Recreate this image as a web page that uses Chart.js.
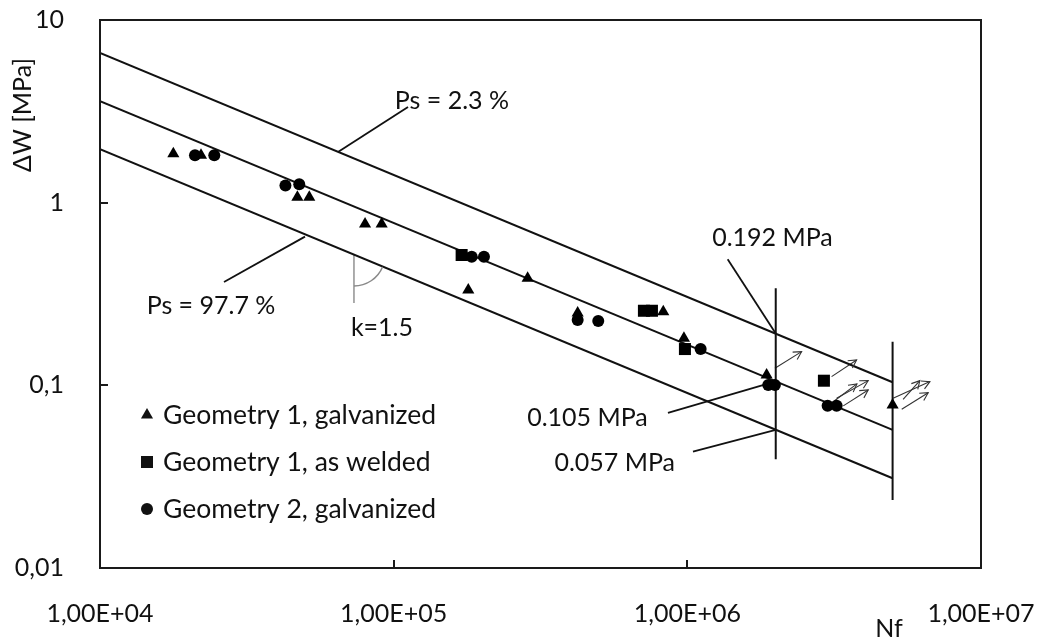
<!DOCTYPE html>
<html><head><meta charset="utf-8">
<script src="https://cdn.jsdelivr.net/npm/chart.js@4"></script>
<style>html,body{margin:0;padding:0;background:#fff;overflow:hidden}</style>
</head><body>
<canvas id="c" width="1045" height="641"></canvas>
<script>
const FONT = 'Lato';
const FS = 25;
const xTickValues = [1e4, 1e5, 1e6, 1e7];
const xTickLabels = ['1,00E+04', '1,00E+05', '1,00E+06', '1,00E+07'];
const yTickValues = [0.01, 0.1, 1, 10];
const yTickLabels = ['0,01', '0,1', '1', '10'];
const xTitle = 'Nf';
const yTitle = 'ΔW [MPa]';
const seriesNames = ['Geometry 1, galvanized', 'Geometry 1, as welded', 'Geometry 2, galvanized'];

const triN = [17770, 22080, 47000, 51600, 79900, 91000, 179500, 285900, 423200, 828000, 973600, 1862000, 5000000];
const triW = [1.85, 1.82, 1.07, 1.07, 0.765, 0.765, 0.333, 0.386, 0.249, 0.253, 0.181, 0.114, 0.078];
const sqN = [170400, 711500, 757700, 981300, 2918000];
const sqW = [0.517, 0.256, 0.256, 0.158, 0.106];
const circN = [21060, 24500, 42800, 47700, 184400, 203000, 423200, 497300, 1110000, 1886000, 1987000, 3004000, 3224000];
const circW = [1.82, 1.82, 1.242, 1.261, 0.506, 0.506, 0.228, 0.225, 0.158, 0.1005, 0.1005, 0.0772, 0.0772];

const lineN = [1e4, 5e6];
const ps23W = [6.6, 0.104];
const ps50W = [3.6, 0.057];
const ps977W = [1.96, 0.031];

const limitN = [2e6, 5e6];
const limitTopW = [0.34, 0.173];
const limitBotW = [0.0394, 0.0236];

const leaderFromN = [111900, 26440, 1372000, 859000, 1045000];
const leaderFromW = [3.341, 0.368, 0.49, 0.0706, 0.0434];
const leaderToN = [64620, 49890, 2e6, 2e6, 2e6];
const leaderToW = [1.894, 0.6515, 0.192, 0.105, 0.057];

const arrowFromN = [1987000, 3099000, 3224000, 3130000, 3396000, 5020000, 5430000, 5370000];
const arrowFromW = [0.1241, 0.1116, 0.085, 0.0811, 0.0772, 0.085, 0.0839, 0.074];
const arrowToN = [2450000, 3771000, 4130000, 3780000, 4130000, 6700000, 6190000, 6610000];
const arrowToW = [0.1529, 0.1377, 0.1061, 0.1018, 0.0943, 0.1048, 0.1061, 0.0911];

const slopeMarkN = [73250, 73250];
const slopeMarkW = [0.517, 0.2825];

const annoTexts = ['Ps = 2.3 %', 'Ps = 97.7 %', 'k=1.5', '0.192 MPa', '0.105 MPa', '0.057 MPa'];
const annoN = [157900, 23880, 91240, 1949000, 457000, 565600];
const annoW = [3.604, 0.2721, 0.2061, 0.641, 0.0663, 0.0376];

const pts = (ns, ws) => ns.map((n, i) => ({x: n, y: ws[i]}));
const seg = (x1, y1, x2, y2, color, width, extra) => Object.assign({
  type: 'line', data: [{x: x1, y: y1}, {x: x2, y: y2}], borderColor: color, borderWidth: width,
  pointRadius: 0, fill: false, tension: 0
}, extra || {});

const datasets = [
  {type: 'scatter', label: seriesNames[0], data: pts(triN, triW), pointStyle: 'triangle', pointRadius: 7, backgroundColor: '#000', borderColor: '#000', borderWidth: 0},
  {type: 'scatter', label: seriesNames[1], data: pts(sqN, sqW), pointStyle: 'rect', pointRadius: 8.5, backgroundColor: '#000', borderColor: '#000', borderWidth: 0},
  {type: 'scatter', label: seriesNames[2], data: pts(circN, circW), pointStyle: 'circle', pointRadius: 6, backgroundColor: '#000', borderColor: '#000', borderWidth: 0},
  seg(lineN[0], ps23W[0], lineN[1], ps23W[1], '#111', 2),
  seg(lineN[0], ps50W[0], lineN[1], ps50W[1], '#111', 2),
  seg(lineN[0], ps977W[0], lineN[1], ps977W[1], '#111', 2),
];
limitN.forEach((n, i) => datasets.push(seg(n, limitTopW[i], n, limitBotW[i], '#111', 2)));
leaderFromN.forEach((n, i) => datasets.push(seg(n, leaderFromW[i], leaderToN[i], leaderToW[i], '#111', 1.8)));
arrowFromN.forEach((n, i) => datasets.push(seg(n, arrowFromW[i], arrowToN[i], arrowToW[i], '#333', 1.1, {isArrow: true})));
datasets.push(seg(slopeMarkN[0], slopeMarkW[0], slopeMarkN[1], slopeMarkW[1], '#8a8a8a', 1.4));

function drawMarker(ctx, style, x, y, r) {
  ctx.beginPath();
  if (style === 'triangle') {
    ctx.moveTo(x, y - r);
    ctx.lineTo(x + r * Math.sin(Math.PI * 2 / 3), y - r * Math.cos(Math.PI * 2 / 3));
    ctx.lineTo(x - r * Math.sin(Math.PI * 2 / 3), y - r * Math.cos(Math.PI * 2 / 3));
    ctx.closePath();
  } else if (style === 'rect') {
    const s = r * Math.SQRT1_2;
    ctx.rect(x - s, y - s, 2 * s, 2 * s);
  } else {
    ctx.arc(x, y, r, 0, Math.PI * 2);
  }
  ctx.fill();
}

const annotPlugin = {
  id: 'annot',
  afterDatasetsDraw(chart) {
    const {ctx, chartArea: a, scales: {x, y}} = chart;
    const px = n => x.getPixelForValue(n), py = w => y.getPixelForValue(w);
    ctx.save();
    ctx.strokeStyle = '#1a1a1a'; ctx.lineWidth = 2;
    ctx.strokeRect(a.left, a.top, a.right - a.left, a.bottom - a.top);
    ctx.beginPath();
    yTickValues.forEach(v => { const yy = Math.round(py(v)); ctx.moveTo(a.left, yy); ctx.lineTo(a.left + 8, yy); });
    xTickValues.forEach(v => { const xx = Math.round(px(v)); ctx.moveTo(xx, a.bottom); ctx.lineTo(xx, a.bottom - 8); });
    ctx.stroke();
    ctx.strokeStyle = '#333'; ctx.lineWidth = 1.1;
    arrowFromN.forEach((n, i) => {
      const x1 = px(n), y1 = py(arrowFromW[i]), x2 = px(arrowToN[i]), y2 = py(arrowToW[i]);
      const th = Math.atan2(y2 - y1, x2 - x1), L = 9;
      ctx.beginPath();
      ctx.moveTo(x2 - L * Math.cos(th - 0.5), y2 - L * Math.sin(th - 0.5));
      ctx.lineTo(x2, y2);
      ctx.lineTo(x2 - L * Math.cos(th + 0.5), y2 - L * Math.sin(th + 0.5));
      ctx.stroke();
    });
    const cx = px(slopeMarkN[0]), cy = py(slopeMarkW[0]);
    const ang = Math.atan2(py(ps977W[1]) - py(ps977W[0]), px(lineN[1]) - px(lineN[0]));
    ctx.strokeStyle = '#8a8a8a'; ctx.lineWidth = 1.4;
    ctx.beginPath(); ctx.arc(cx, cy, 31, ang, Math.PI / 2); ctx.stroke();
    ctx.fillStyle = '#111';
    ctx.font = FS + 'px ' + FONT;
    ctx.textAlign = 'center'; ctx.textBaseline = 'middle';
    annoTexts.forEach((t, i) => ctx.fillText(t, px(annoN[i]), py(annoW[i])));
    const styles = ['triangle', 'rect', 'circle'];
    const radii = [7, 8.5, 6];
    ctx.textAlign = 'left';
    ctx.font = '26.5px ' + FONT;
    chart.data.datasets.slice(0, 3).forEach((ds, i) => {
      const ly = a.top + 395 + i * 47;
      drawMarker(ctx, styles[i], a.left + 47, ly, radii[i]);
      ctx.fillText(ds.label, a.left + 63, ly);
    });
    ctx.font = FS + 'px ' + FONT;
    ctx.textAlign = 'center';
    ctx.fillText(xTitle, a.right - 92, a.bottom + 61);
    ctx.save();
    ctx.translate(a.left - 77, a.top + 95);
    ctx.rotate(-Math.PI / 2);
    ctx.fillText(yTitle, 0, 0);
    ctx.restore();
    ctx.restore();
  }
};

new Chart(document.getElementById('c'), {
  data: {datasets},
  options: {
    responsive: false,
    animation: false,
    layout: {padding: {top: 20, right: 64, left: 0, bottom: 0}},
    plugins: {legend: {display: false}, tooltip: {enabled: false}},
    scales: {
      x: {
        type: 'logarithmic', position: 'bottom', min: 1e4, max: 1e7,
        grid: {display: false}, border: {display: false},
        afterBuildTicks: s => { s.ticks = xTickValues.map(v => ({value: v})); },
        afterFit: s => { s.height = 73; s.paddingLeft = 0; s.paddingRight = 0; },
        ticks: {
          autoSkip: false, maxRotation: 0, padding: 23, color: '#111',
          font: {family: FONT, size: FS},
          callback: v => { const i = xTickValues.indexOf(v); return i >= 0 ? xTickLabels[i] : ''; }
        }
      },
      y: {
        type: 'logarithmic', position: 'left', min: 0.01, max: 10,
        grid: {display: false}, border: {display: false},
        afterBuildTicks: s => { s.ticks = yTickValues.map(v => ({value: v})); },
        afterFit: s => { s.width = 100; s.paddingTop = 0; s.paddingBottom = 0; },
        ticks: {
          autoSkip: false, padding: 28, color: '#111',
          font: {family: FONT, size: FS},
          callback: v => { const i = yTickValues.indexOf(v); return i >= 0 ? yTickLabels[i] : ''; }
        }
      }
    }
  },
  plugins: [annotPlugin]
});
</script>
</body></html>
